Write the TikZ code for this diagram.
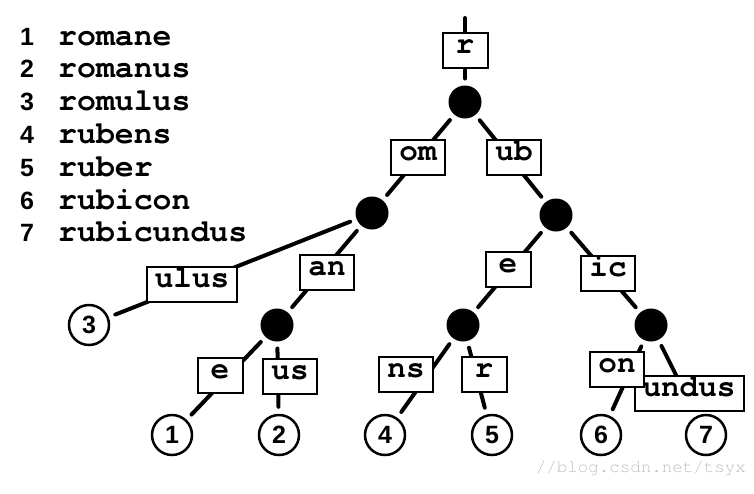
\documentclass[tikz,border=0pt]{standalone}
\usepackage{fontspec}
\newfontfamily\cursorfont{TeX Gyre Cursor}
\newfontfamily\digitfont{Liberation Sans}
\usetikzlibrary{positioning}

\begin{document}
\begin{tikzpicture}[x=1pt,y=-1pt,line cap=round,
    keybox/.style={rectangle,draw,line width=2pt,fill=white,inner xsep=8pt,inner ysep=0pt,minimum width=45pt,minimum height=35pt,text height=0.75em,text depth=0.05em,font=\cursorfont\bfseries\fontsize{31}{31}\selectfont},
    branch/.style={circle,fill=black,minimum size=33pt,inner sep=0pt,outer sep=0pt},
    leaf/.style={circle,draw,line width=2.5pt,minimum size=40pt,inner sep=0pt,font=\digitfont\bfseries\fontsize{25}{25}\selectfont},
    edge/.style={line width=4pt,shorten <=7pt,shorten >=7pt},
    wordline/.style={anchor=base west,inner sep=0pt,font=\cursorfont\bfseries\fontsize{31.5}{31.5}\selectfont}]
        \useasboundingbox (0,0) rectangle (754,493);
        %
        \coordinate (top) at (465,18);
        \node[branch] (root) at (465,102) {};
        \node[branch] (nodeom) at (372,213) {};
        \node[branch] (nodeub) at (556,215) {};
        \node[branch] (nodean) at (277,325) {};
        \node[branch] (nodee) at (463,325) {};
        \node[branch] (nodeic) at (651,325) {};
        %
        \node[leaf] (leaf1) at (172,435) {1};
        \node[leaf] (leaf2) at (279,435) {2};
        \node[leaf] (leaf3) at (89,325) {3};
        \node[leaf] (leaf4) at (385,435) {4};
        \node[leaf] (leaf5) at (492,435) {5};
        \node[leaf] (leaf6) at (601,435) {6};
        \node[leaf] (leaf7) at (706,435) {7};
        %
        \draw [edge,shorten <=0pt] (top) to (root);
        \draw [edge] (root) to (nodeom);
        \draw [edge] (root) to (nodeub);
        \draw [edge] (nodeom) to (leaf3);
        \draw [edge] (nodeom) to (nodean);
        \draw [edge] (nodean) to (leaf1);
        \draw [edge] (nodean) to (leaf2);
        \draw [edge] (nodeub) to (nodee);
        \draw [edge] (nodeub) to (nodeic);
        \draw [edge] (nodee) to (leaf4);
        \draw [edge] (nodee) to (leaf5);
        \draw [edge] (nodeic) to (leaf6);
        \draw [edge] (nodeic) to (leaf7);
        %
        \node[keybox] (keyr) at (465,50) {r};
        \node[keybox] (keyom) at (418,157) {om};
        \node[keybox] (keyub) at (514,157) {ub};
        \node[keybox] (keyulus) at (192,284) {ulus};
        \node[keybox] (keyan) at (327,272) {an};
        \node[keybox] (keyeleft) at (220,375) {e};
        \node[keybox] (keyus) at (290,376) {us};
        \node[keybox] (keyeright) at (508,269) {e};
        \node[keybox] (keyic) at (608,273) {ic};
        \node[keybox] (keyns) at (406,374) {ns};
        \node[keybox] (keyrright) at (484,374) {r};
        \node[keybox] (keyundus) at (689,393) {undus};
        \node[keybox] (keyon) at (617,369) {on};
        %
        \foreach \i/\w in {1/romane,2/romanus,3/romulus,4/rubens,5/ruber,6/rubicon,7/rubicundus}
            \node[wordline] (word\i) at (20,{45+32.8*(\i-1)}) {\makebox[38pt][l]{\digitfont\bfseries\fontsize{25}{25}\selectfont\i}\w};
        %
        \node[anchor=base east,inner sep=0pt,text=black!25,font=\cursorfont\fontsize{17.5}{17.5}\selectfont] (mark) at (746,472) {//blog.csdn.net/tsyx};
        %
    \end{tikzpicture}
\end{document}
